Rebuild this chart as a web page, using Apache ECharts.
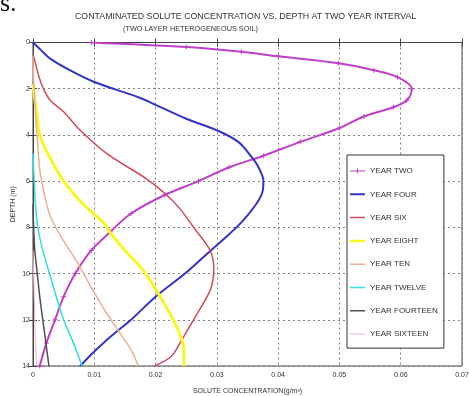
<!DOCTYPE html>
<html>
<head>
<meta charset="utf-8">
<script src="https://cdn.jsdelivr.net/npm/echarts@6/dist/echarts.min.js"></script>
<style>
  html, body { margin: 0; padding: 0; background: #fff; }
  #chart { width: 469px; height: 396px; }
</style>
</head>
<body>
<div id="chart"></div>
<script>
// depth (m) and solute concentration (g/m^3) per curve
const depthTwo = [0, 0.2, 0.4, 0.6, 0.9, 1.2, 1.5, 2.0, 2.5, 2.8, 3.2, 3.7, 4.3, 4.9, 5.4, 6.0, 6.6, 7.4, 8.2, 9.0, 10, 11, 12, 13, 14];
const concTwo = [0.0095, 0.025, 0.034, 0.040, 0.0498, 0.0556, 0.0595, 0.0618, 0.061, 0.0588, 0.054, 0.050, 0.0436, 0.0376, 0.032, 0.027, 0.0215, 0.016, 0.0126, 0.0095, 0.0069, 0.005, 0.0036, 0.0022, 0.0011];

const depthFour = [0, 0.3, 0.7, 1.2, 1.7, 2.4, 2.7, 3.3, 3.8, 4.3, 4.9, 5.4, 6.0, 6.5, 7.0, 7.7, 8.3, 9.0, 10, 11, 12, 12.5, 13, 13.5, 14];
const concFour = [0, 0.0012, 0.0028, 0.006, 0.0099, 0.0175, 0.020, 0.025, 0.030, 0.0335, 0.0355, 0.0368, 0.0376, 0.0374, 0.0364, 0.0343, 0.032, 0.029, 0.0248, 0.0200, 0.016, 0.0137, 0.0115, 0.0095, 0.0077];

const depthSix = [0.5, 1.0, 1.5, 2.0, 2.5, 3.0, 3.8, 4.8, 5.9, 6.6, 7.2, 8.0, 9.0, 9.8, 10.5, 11, 12, 13, 13.6, 14];
const concSix = [0, 0.0005, 0.0010, 0.0017, 0.0028, 0.005, 0.0077, 0.012, 0.0185, 0.0218, 0.0240, 0.0262, 0.0289, 0.0295, 0.0292, 0.0284, 0.0262, 0.0240, 0.0225, 0.0198];

const depthEight = [1.8, 2.5, 3.0, 4.0, 5.0, 6.0, 7.0, 7.8, 8.3, 9.0, 9.8, 10.5, 11.2, 12, 12.8, 13.3, 14];
const concEight = [0, 0.0003, 0.0006, 0.0011, 0.0028, 0.005, 0.0082, 0.0115, 0.0128, 0.0150, 0.0178, 0.0196, 0.0212, 0.0229, 0.0242, 0.0246, 0.0246];

const depthTen = [0.6, 1.5, 2.5, 3.5, 4.5, 5.5, 6.5, 7.5, 8.5, 9.5, 10.5, 11.5, 12.5, 13.3, 14];
const concTen = [0, 0.0001, 0.0003, 0.0005, 0.0008, 0.0011, 0.0018, 0.0028, 0.0048, 0.0072, 0.0093, 0.0115, 0.0140, 0.0160, 0.0172];

const depthTwelve = [4.8, 6, 7, 8, 9, 10, 11, 12, 13, 14];
const concTwelve = [0, 0.0002, 0.0004, 0.0008, 0.0016, 0.0027, 0.0038, 0.005, 0.0066, 0.008];

const depthFourteen = [7, 8, 9, 10, 11, 12, 13, 14];
const concFourteen = [0, 0.0001, 0.0003, 0.0007, 0.0011, 0.0016, 0.0021, 0.0026];

const depthSixteen = [9, 10, 11, 12, 13, 14];
const concSixteen = [0, 0.0001, 0.0002, 0.0003, 0.0004, 0.0006];

const seriesNames = ['YEAR TWO', 'YEAR FOUR', 'YEAR SIX', 'YEAR EIGHT', 'YEAR TEN', 'YEAR TWELVE', 'YEAR FOURTEEN', 'YEAR SIXTEEN'];
const xTicks = ['0', '0.01', '0.02', '0.03', '0.04', '0.05', '0.06', '0.07'];

const curves = [
  { depth: depthTwo, conc: concTwo, color: '#c040c8', width: 2 },
  { depth: depthFour, conc: concFour, color: '#3434c8', width: 2 },
  { depth: depthSix, conc: concSix, color: '#d04a5a', width: 1.5 },
  { depth: depthEight, conc: concEight, color: '#f8f820', width: 3 },
  { depth: depthTen, conc: concTen, color: '#f0b090', width: 1.5 },
  { depth: depthTwelve, conc: concTwelve, color: '#30e0e0', width: 1.5 },
  { depth: depthFourteen, conc: concFourteen, color: '#505050', width: 1.5 },
  { depth: depthSixteen, conc: concSixteen, color: '#ffb0c4', width: 1 }
];

const plusSymbol = 'path://M4,0H6V4H10V6H6V10H4V6H0V4H4Z';
// legend icons: 15x7 box, tiny corner specks keep the bbox so the path isn't stretched
const box = ' M0,0H0.01V0.01H0Z M14.99,6.99H15V7H14.99Z';
const lineIcon = (w) => 'path://M0,' + (3.5 - w / 2) + 'H15V' + (3.5 + w / 2) + 'H0Z' + box;
const plusIcon = 'path://M0,3H15V4H0Z M7,1H8V6H7Z' + box;
const font = '"Liberation Sans", Arial, sans-serif';

const chart = echarts.init(document.getElementById('chart'));

const gridLine = { show: true, lineStyle: { color: '#808080', type: [2, 3], width: 1 } };

const option = {
  animation: false,
  backgroundColor: '#fff',
  textStyle: { fontFamily: font },
  title: [
    {
      text: 'CONTAMINATED SOLUTE CONCENTRATION VS. DEPTH AT TWO YEAR INTERVAL',
      left: 75, top: 12, padding: 0,
      textStyle: { fontSize: 8.8, fontWeight: 'normal', color: '#333', fontFamily: font }
    },
    {
      text: '(TWO LAYER HETEROGENEOUS SOIL)',
      left: 123, top: 25, padding: 0,
      textStyle: { fontSize: 7.3, fontWeight: 'normal', color: '#333', fontFamily: font }
    }
  ],
  graphic: [
    { type: 'text', left: 0, top: -9, style: { text: 's.', fontSize: 26, fontFamily: '"Liberation Serif", serif', fill: '#111' } }
  ],
  legend: {
    orient: 'vertical',
    left: 347, top: 155,
    padding: [12, 6, 10, 3],
    itemWidth: 15, itemHeight: 7, itemGap: 15.3,
    backgroundColor: '#fff',
    borderColor: '#333', borderWidth: 1, borderRadius: 0,
    textStyle: { fontSize: 8, color: '#333', fontFamily: font },
    data: seriesNames.map((n, i) => ({
      name: n,
      icon: i === 0 ? plusIcon : lineIcon(Math.min(curves[i].width, 2.5))
    }))
  },
  grid: {
    left: 33, right: 7, top: 42.5, bottom: 30,
    outerBoundsMode: 'none',
    show: true, borderColor: '#444', borderWidth: 1
  },
  xAxis: [
    {
      type: 'value', min: 0, max: 0.07, interval: 0.01,
      name: 'SOLUTE CONCENTRATION(g/m³)', nameLocation: 'middle', nameGap: 22,
      nameTextStyle: { fontSize: 7, color: '#333' },
      axisLine: { show: true, lineStyle: { color: '#444' } },
      axisTick: { show: true, inside: true, length: 4, lineStyle: { color: '#444' } },
      axisLabel: { fontSize: 7, color: '#333', margin: 6, formatter: (v) => xTicks[Math.round(v * 100)] },
      splitLine: gridLine
    },
    {
      type: 'value', min: 0, max: 0.07, interval: 0.01, position: 'top',
      axisLine: { show: true, lineStyle: { color: '#444' } },
      axisTick: { show: true, inside: true, length: 4, lineStyle: { color: '#444' } },
      axisLabel: { show: false }, splitLine: { show: false }
    }
  ],
  yAxis: [
    {
      type: 'value', min: 0, max: 14, interval: 2, inverse: true,
      name: 'DEPTH (m)', nameLocation: 'middle', nameGap: 16, nameRotate: 90,
      nameMoveOverlap: false,
      nameTextStyle: { fontSize: 7, color: '#333' },
      axisLine: { show: true, lineStyle: { color: '#444' } },
      axisTick: { show: true, inside: true, length: 4, lineStyle: { color: '#444' } },
      axisLabel: { fontSize: 7, color: '#333', margin: 3 },
      splitLine: gridLine
    },
    {
      type: 'value', min: 0, max: 14, interval: 2, inverse: true, position: 'right',
      axisLine: { show: true, lineStyle: { color: '#444' } },
      axisTick: { show: true, inside: true, length: 4, lineStyle: { color: '#444' } },
      axisLabel: { show: false }, splitLine: { show: false }
    }
  ],
  series: curves.map((c, i) => ({
    name: seriesNames[i],
    type: 'line',
    xAxisIndex: 0,
    yAxisIndex: 0,
    smooth: 0.35,
    data: c.conc.map((v, k) => [v, c.depth[k]]),
    symbol: i === 0 ? plusSymbol : 'none',
    symbolSize: 5,
    showSymbol: i === 0,
    itemStyle: { color: c.color },
    lineStyle: { color: c.color, width: c.width },
    z: 2 + i
  }))
};

chart.setOption(option);
</script>
</body>
</html>
